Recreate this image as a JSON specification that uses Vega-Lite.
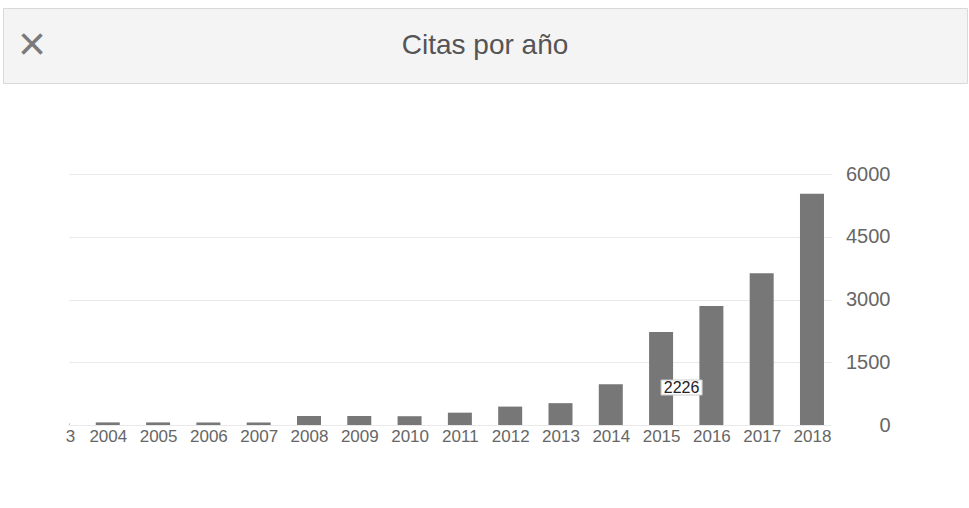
{
  "$schema": "https://vega.github.io/schema/vega-lite/v6.json",
  "background": "white",
  "padding": {"left": 2, "top": 7, "right": 0, "bottom": 0},
  "config": {
    "font": "Liberation Sans",
    "view": {"stroke": null}
  },
  "spacing": 91,
  "bounds": "flush",
  "vconcat": [
    {
      "width": 964,
      "height": 75,
      "view": {"fill": "#f4f4f4", "stroke": "#d9d9d9"},
      "title": {
        "text": "×",
        "orient": "left",
        "frame": "group",
        "anchor": "middle",
        "angle": 0,
        "align": "center",
        "baseline": "middle",
        "offset": -57,
        "fontSize": 48,
        "fontWeight": "normal",
        "color": "#7a7a7a"
      },
      "data": {"values": [{"t": "Citas por año"}]},
      "mark": {"type": "text", "fontSize": 28, "color": "#555555", "baseline": "middle"},
      "encoding": {"text": {"field": "t"}}
    },
    {
      "spacing": 0,
      "bounds": "flush",
      "hconcat": [
        {
          "width": 66,
          "height": 251,
          "data": {"values": []},
          "mark": "point"
        },
        {
          "width": 762,
          "height": 251,
          "data": {
            "values": [
              {"year": 2003, "citas": 40},
              {"year": 2004, "citas": 62},
              {"year": 2005, "citas": 62},
              {"year": 2006, "citas": 60},
              {"year": 2007, "citas": 60},
              {"year": 2008, "citas": 215},
              {"year": 2009, "citas": 215},
              {"year": 2010, "citas": 210},
              {"year": 2011, "citas": 295},
              {"year": 2012, "citas": 440},
              {"year": 2013, "citas": 522},
              {"year": 2014, "citas": 975},
              {"year": 2015, "citas": 2226},
              {"year": 2016, "citas": 2847},
              {"year": 2017, "citas": 3630},
              {"year": 2018, "citas": 5530}
            ]
          },
          "encoding": {
            "x": {
              "field": "year",
              "type": "quantitative",
              "scale": {"domain": [2003.229, 2018.378], "nice": false, "zero": false, "padding": 0},
              "axis": {
                "orient": "bottom",
                "values": [2004, 2005, 2006, 2007, 2008, 2009, 2010, 2011, 2012, 2013, 2014, 2015, 2016, 2017, 2018],
                "format": "d",
                "labelFontSize": 17,
                "labelColor": "#666666",
                "labelPadding": 3,
                "labelOverlap": false,
                "labelFlush": false,
                "grid": false,
                "domain": false,
                "ticks": false,
                "tickSize": 0,
                "title": null
              }
            }
          },
          "layer": [
            {
              "mark": {"type": "bar", "width": 24, "color": "#777777", "clip": true},
              "encoding": {
                "y": {
                  "field": "citas",
                  "type": "quantitative",
                  "scale": {"domain": [0, 6000], "nice": false},
                  "axis": {
                    "orient": "right",
                    "values": [0, 1500, 3000, 4500, 6000],
                    "format": "d",
                    "labelFontSize": 20,
                    "labelColor": "#666666",
                    "labelAlign": "right",
                    "labelBaseline": "middle",
                    "labelPadding": 59,
                    "domain": false,
                    "ticks": false,
                    "tickSize": 0,
                    "grid": true,
                    "gridColor": "#e9e9e9",
                    "gridWidth": 1,
                    "title": null
                  }
                }
              }
            },
            {
              "transform": [{"filter": "datum.year == 2003"}],
              "mark": {"type": "text", "fontSize": 17, "color": "#666666", "align": "center", "baseline": "top", "dx": 13, "dy": 4, "clip": false},
              "encoding": {"y": {"datum": 0}, "text": {"value": "3"}}
            },
            {
              "transform": [{"filter": "datum.year == 2015"}],
              "mark": {
                "type": "point",
                "shape": "M0,-0.366H2V0.366H0Z",
                "size": 1681,
                "filled": true,
                "fill": "white",
                "stroke": "#cccccc",
                "strokeWidth": 1,
                "opacity": 1
              },
              "encoding": {"y": {"datum": 896}}
            },
            {
              "transform": [{"filter": "datum.year == 2015"}],
              "mark": {"type": "text", "fontSize": 16, "color": "#222222", "align": "center", "baseline": "middle", "dx": 20.5},
              "encoding": {"y": {"datum": 896}, "text": {"field": "citas", "type": "quantitative"}}
            }
          ]
        }
      ]
    }
  ]
}
